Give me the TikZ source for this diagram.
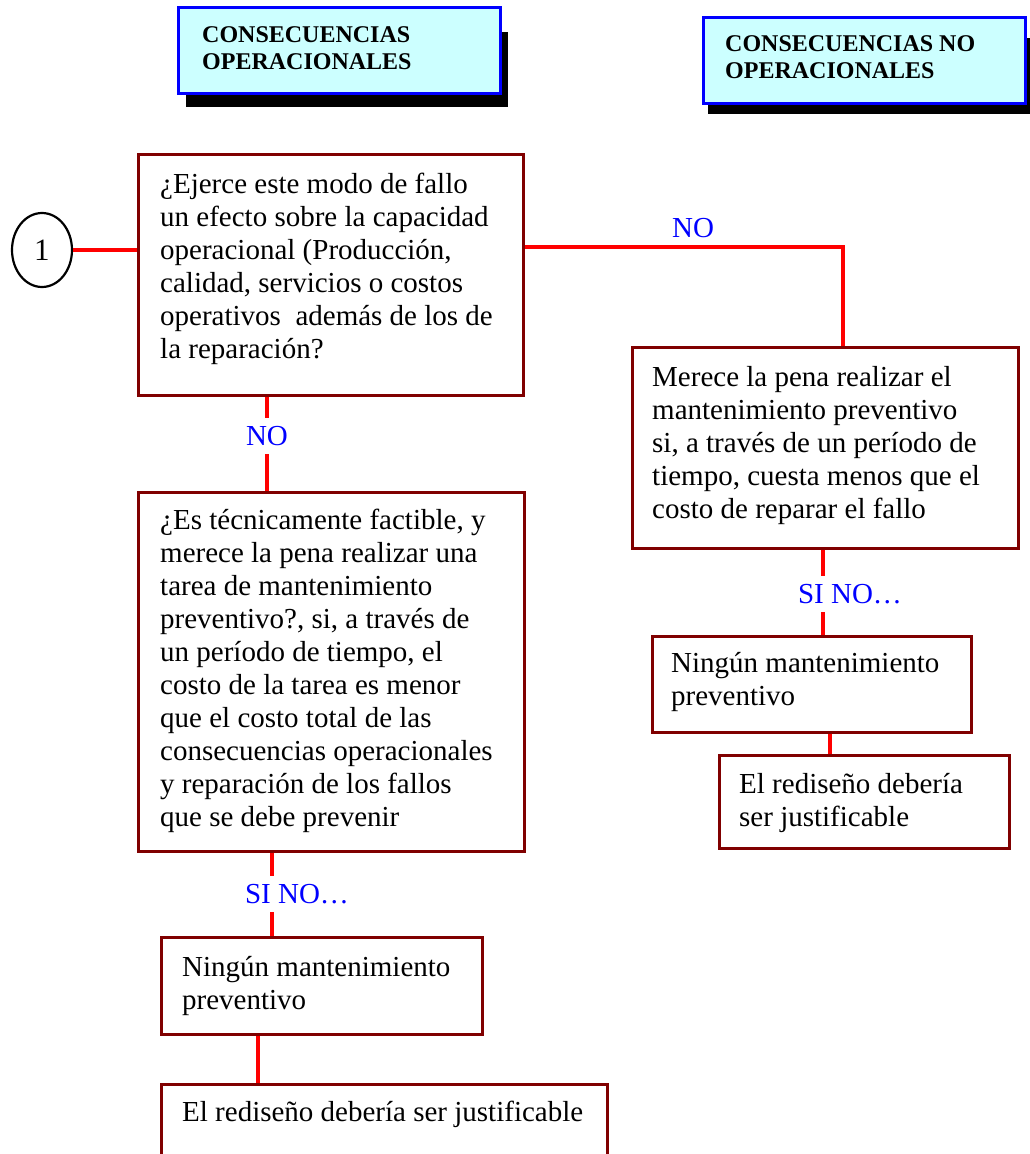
\documentclass[tikz,border=0pt]{standalone}
\usepackage{fontspec}
\setmainfont{Liberation Serif}
\usetikzlibrary{fit,shapes.geometric}

\definecolor{boxred}{HTML}{800000}
\definecolor{linkred}{HTML}{FF0000}
\definecolor{headfill}{HTML}{CCFFFF}
\definecolor{headblue}{HTML}{0000FF}
\definecolor{tagblue}{HTML}{0000FF}

% multi-line text block whose baseline is that of its first line
\newcommand\txtblock[1]{\parbox[t]{420pt}{\raggedright #1}}

\tikzset{
  box/.style={draw=boxred, line width=3pt, inner sep=0pt},
  headbox/.style={draw=headblue, line width=3pt, fill=headfill, inner sep=0pt},
  shadowbox/.style={fill=black, inner sep=0pt},
  body/.style={inner sep=0pt, anchor=base west, font=\fontsize{29}{33}\selectfont},
  headtxt/.style={inner sep=0pt, anchor=base west, font=\fontsize{24}{27}\selectfont\bfseries},
  tag/.style={text=tagblue, font=\fontsize{29}{33}\selectfont},
  gaptag/.style={tag, fill=white, inner xsep=3pt, inner ysep=8pt},
  link/.style={draw=linkred, line width=3.2pt},
}

\begin{document}
\begin{tikzpicture}[x=1pt, y=-1pt]
\useasboundingbox (0,0) rectangle (1029,1154);

% column headings with drop shadows
\node[shadowbox, fit={(186,32) (508,107)}] (H1s) {};
\node[headbox, fit={(178,7) (500,93)}] (H1) {};
\node[headtxt] (H1t) at (202,42) {\txtblock{CONSECUENCIAS\\OPERACIONALES}};

\node[shadowbox, fit={(708,38) (1035,114)}] (H2s) {};
\node[headbox, fit={(703,17) (1025,103)}] (H2) {};
\node[headtxt] (H2t) at (725,51) {\txtblock{CONSECUENCIAS NO\\OPERACIONALES}};

% start marker
\node[draw=black, line width=2.2pt, ellipse, minimum width=60pt, minimum height=74pt,
      inner sep=0pt, font=\fontsize{31}{33}\selectfont] (S) at (42,250) {1};

% decision boxes
\node[box, fit={(138,154) (523,395)}] (A) {};
\node[body] (At) at (160,193) {\txtblock{¿Ejerce este modo de fallo\\un efecto sobre la capacidad\\operacional (Producción,\\calidad, servicios o costos\\operativos\ \ además de los de\\la reparación?}};

\node[box, fit={(138,492) (524,851)}] (E) {};
\node[body] (Et) at (160,529) {\txtblock{¿Es técnicamente factible, y\\merece la pena realizar una\\tarea de mantenimiento\\preventivo?, si, a través de\\un período de tiempo, el\\costo de la tarea es menor\\que el costo total de las\\consecuencias operacionales\\y reparación de los fallos\\que se debe prevenir}};

\node[box, fit={(161,937) (482,1034)}] (F) {};
\node[body] (Ft) at (182,976) {\txtblock{Ningún mantenimiento\\preventivo}};

\node[box, fit={(161,1084) (607,1162)}] (G) {};
\node[body] (Gt) at (182,1121) {\txtblock{El rediseño debería ser justificable}};

\node[box, fit={(632,347) (1018,548)}] (B) {};
\node[body] (Bt) at (652,386) {\txtblock{Merece la pena realizar el\\mantenimiento preventivo\\si, a través de un período de\\tiempo, cuesta menos que el\\costo de reparar el fallo}};

\node[box, fit={(652,636) (971,732)}] (C) {};
\node[body] (Ct) at (671,672) {\txtblock{Ningún mantenimiento\\preventivo}};

\node[box, fit={(719,755) (1009,848)}] (D) {};
\node[body] (Dt) at (739,793) {\txtblock{El rediseño debería\\ser justificable}};

% connector anchor points
\coordinate (a1) at ([yshift=27.5pt]A.east);
\coordinate (b0) at ([xshift=18pt]B.north);
\coordinate (a3) at ([xshift=-63.5pt]A.south);
\coordinate (e1) at ([xshift=-59pt]E.south);
\coordinate (f1) at ([xshift=-63.5pt]F.south);
\coordinate (b1) at ([xshift=-2pt]B.south);
\coordinate (c1) at ([xshift=18.5pt]C.south);

% connectors
\draw[link] (S.east) -- (S.east -| A.west);
\draw[link] (a1) -- (a1 -| b0) -- (b0);
\draw[link] (a3) -- (a3 |- E.north);
\draw[link] (e1) -- (e1 |- F.north);
\draw[link] (f1) -- (f1 |- G.north);
\draw[link] (b1) -- (b1 |- C.north);
\draw[link] (c1) -- (c1 |- D.north);

% answer labels
\node[tag] (l1) at (693,228) {NO};
\node[gaptag] (l2) at (267,436) {NO};
\node[gaptag] (l3) at (297,894) {SI NO…};
\node[gaptag] (l4) at (850,594) {SI NO…};
\end{tikzpicture}
\end{document}
